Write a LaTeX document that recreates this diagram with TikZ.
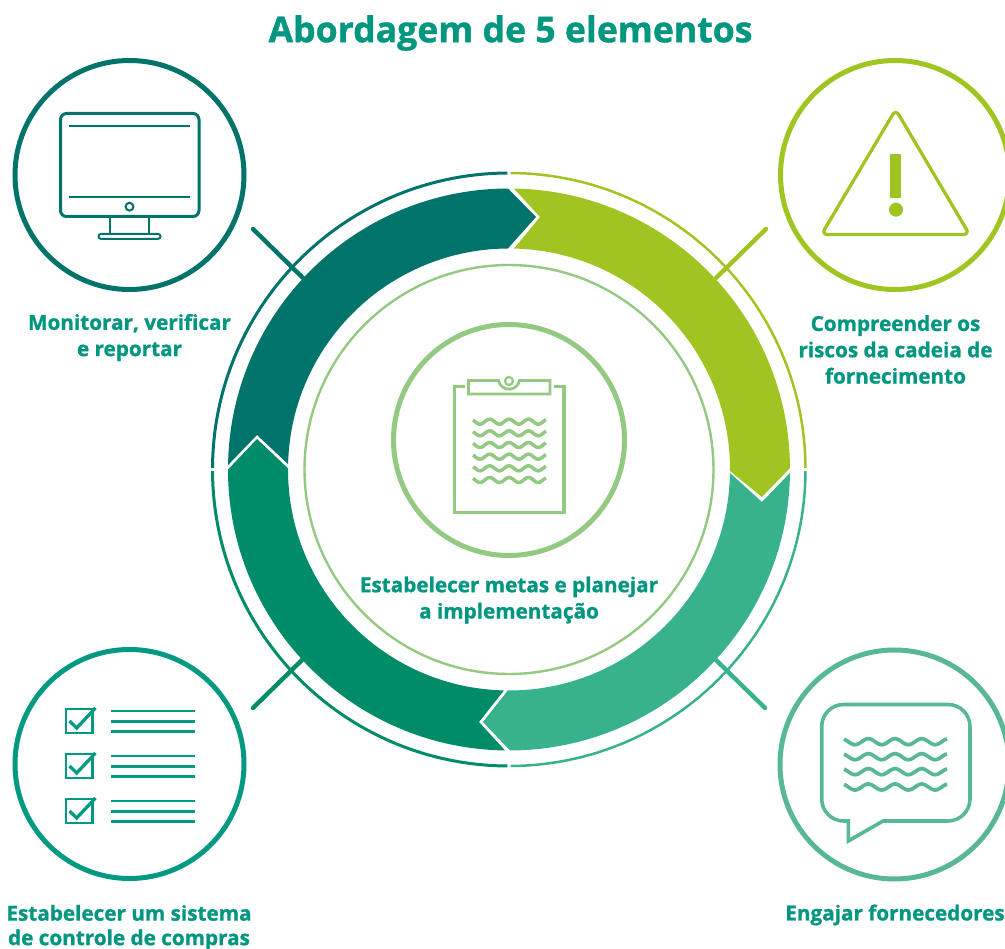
\documentclass[tikz,border=0pt]{standalone}
\usepackage{fontspec}
\setmainfont[BoldFeatures={FakeBold=1}]{Open Sans}
\definecolor{cteal}{HTML}{00736B}
\definecolor{clime}{HTML}{A0C522}
\definecolor{cmed}{HTML}{38B28C}
\definecolor{cdeep}{HTML}{008C69}
\definecolor{cpale}{HTML}{93C983}
\definecolor{cbub}{HTML}{58B896}
\definecolor{cchk}{HTML}{009982}
\definecolor{ctxt}{HTML}{00967F}
\newcommand{\wavy}[6]{% x0, x1, y, period, trough x, amp
  plot[domain=#1:#2,samples=70,smooth] (\x,{#3+#6*cos((\x-#5)/#4*360)})}
\tikzset{
  disc/.style={line width=5pt,draw=#1},
  label/.style={font=\bfseries\fontsize{20.7}{26.3}\selectfont,text=ctxt,align=center,inner sep=0pt},
  spoke/.style={line width=4.4pt,draw=#1,line cap=round},
  rim/.style={line width=2.5pt,draw=#1},
  at c/.style={shift={(509,469.5)}},
}
\begin{document}
\begin{tikzpicture}[x=1pt,y=1pt,yscale=-1]
\useasboundingbox (0,0) rectangle (1005,949);
\clip (0,0) rectangle (1005,949);
\coordinate (C) at (509,469.5);

% main band
\fill[clime] ([at c]-89:281) arc[start angle=-89,end angle=-0.3,radius=281] -- (762,497) -- ([at c]0.4:221) arc[start angle=0.4,end angle=-88.7,radius=221] -- (540,217) -- cycle;
\fill[cmed] ([at c]0.7:281) arc[start angle=0.7,end angle=89.8,radius=281] -- (483,722) -- ([at c]90.3:221) arc[start angle=90.3,end angle=0.9,radius=221] -- (762,502) -- cycle;
\fill[cdeep] ([at c]90.8:281) arc[start angle=90.8,end angle=180,radius=281] -- (257,439) -- ([at c]180.3:221) arc[start angle=180.3,end angle=91.3,radius=221] -- (479,722) -- cycle;
\fill[cteal] ([at c]180.9:281) arc[start angle=180.9,end angle=269.8,radius=281] -- (536,217) -- ([at c]269.7:221) arc[start angle=269.7,end angle=181.4,radius=221] -- (257,435) -- cycle;

% outer rim
\draw[rim=cteal,line width=3pt] ([at c]180.3:296.5) arc[start angle=180.3,end angle=269.7,radius=296.5];
\draw[rim=clime] ([at c]270.3:296.5) arc[start angle=270.3,end angle=359.7,radius=296.5];
\draw[rim=cmed] ([at c]0.3:296.5) arc[start angle=0.3,end angle=89.7,radius=296.5];
\draw[rim=cdeep,line width=3pt] ([at c]90.3:296.5) arc[start angle=90.3,end angle=179.7,radius=296.5];

% spokes
\coordinate (s1a) at (253,229); \coordinate (s1b) at (303,278);
\coordinate (s2a) at (766,229); \coordinate (s2b) at (716,278);
\coordinate (s3a) at (765,708); \coordinate (s3b) at (716,660);
\coordinate (s4a) at (253,708); \coordinate (s4b) at (303,659);
\draw[spoke=cteal] (s1a) -- (s1b);
\draw[spoke=clime] (s2a) -- (s2b);
\draw[spoke=cmed] (s3a) -- (s3b);
\draw[spoke=cdeep] (s4a) -- (s4b);

% inner ring and centre
\draw[cpale,line width=2.4pt] (C) circle[radius=204.5];
\draw[disc=cpale] (509,440) circle[radius=115.5];
% clipboard
\draw[cpale,line width=3.5pt] (465,386.7) -- (454.4,386.7) -- (454.4,512.3) -- (564,512.3) -- (564,386.7) -- (554,386.7);
\draw[cpale,line width=2.8pt] (468.5,380.5) -- (498.5,380.5) arc[start angle=170,end angle=10,radius=10.6] -- (550,380.5) -- (550,394) -- (468.5,394) -- cycle;
\draw[cpale,line width=2.2pt] (509,381) circle[radius=4];
\foreach \yy in {421.7,433.3,445,456.7,468.3,480}
  \draw[cpale,line width=3.5pt] \wavy{473}{546}{\yy}{19.4}{480}{2.5};
% monitor
\draw[cteal,line width=3pt,rounded corners=6pt] (60.5,113.5) rectangle (199,216.5);
\draw[cteal,line width=2.1pt] (69,125.7) -- (190,125.7);
\draw[cteal,line width=2.1pt] (69,196.7) -- (190,196.7);
\draw[cteal,line width=2.1pt] (129.5,206.7) circle[radius=3.9];
\draw[cteal,line width=2.3pt] (110,217) -- (110,234) (149,217) -- (149,234);
\draw[cteal,line width=2pt,rounded corners=2.4pt] (98.5,234) rectangle (160.5,238.8);
\draw[disc=cteal] (129.5,175) circle[radius=114.5];
% warning
\draw[disc=clime] (895,175) circle[radius=114.5];
\draw[clime,line width=3.3pt,line join=round,rounded corners=6pt] (895.7,109.5) -- (969.5,234.5) -- (821.5,234.5) -- cycle;
\fill[clime] (890,154) rectangle (901,198);
\fill[clime] (896,209.7) circle[radius=7];
% checklist
\draw[disc=cchk] (129.5,764) circle[radius=114.5];
\foreach \dy in {0,45,90}{
  \draw[cchk,line width=2.8pt] (66,{709+\dy}) rectangle (92.5,{733+\dy});
  \draw[cchk,line width=3.3pt] (69.5,{721+\dy}) -- (76.7,{728+\dy}) -- (95.5,{708+\dy});
  \foreach \ly in {711,721.3,731.7}
    \draw[cchk,line width=2.5pt] (111,{\ly+\dy}) -- (195,{\ly+\dy});
}
% bubble
\draw[disc=cbub] (894.5,764.5) circle[radius=114.5];
\draw[cbub,line width=3.6pt] (844,704.5) -- (948,704.5) arc[start angle=-90,end angle=0,radius=22] -- (970,799) arc[start angle=0,end angle=90,radius=22] -- (883,821) -- (848.3,841) -- (848.3,821) -- (843.7,821) arc[start angle=90,end angle=180,radius=22] -- (821.7,726.5) arc[start angle=180,end angle=270,radius=22] -- cycle;
\foreach \yy in {741.7,756.7,771.7,787}
  \draw[cbub,line width=3.7pt] \wavy{844}{947}{\yy}{26.7}{855}{3};

% text
\node[label,font=\bfseries\fontsize{35.6}{42}\selectfont] (title) at (510.5,33) {Abordagem de 5 elementos};
\node[label] (l1) at (129.5,337.5) {Monitorar, verificar\\e reportar};
\node[label] (l2) at (895.5,349.5) {Compreender os\\riscos da cadeia de\\fornecimento};
\node[label,font=\bfseries\fontsize{20.7}{24.5}\selectfont] (l3b) at (129,927.5) {Estabelecer um sistema\\de controle de compras};
\node[label] (l3) at (509,600) {Estabelecer metas e planejar\\a implementação};
\node[label] (l5) at (895,915) {Engajar fornecedores};
\end{tikzpicture}
\end{document}
